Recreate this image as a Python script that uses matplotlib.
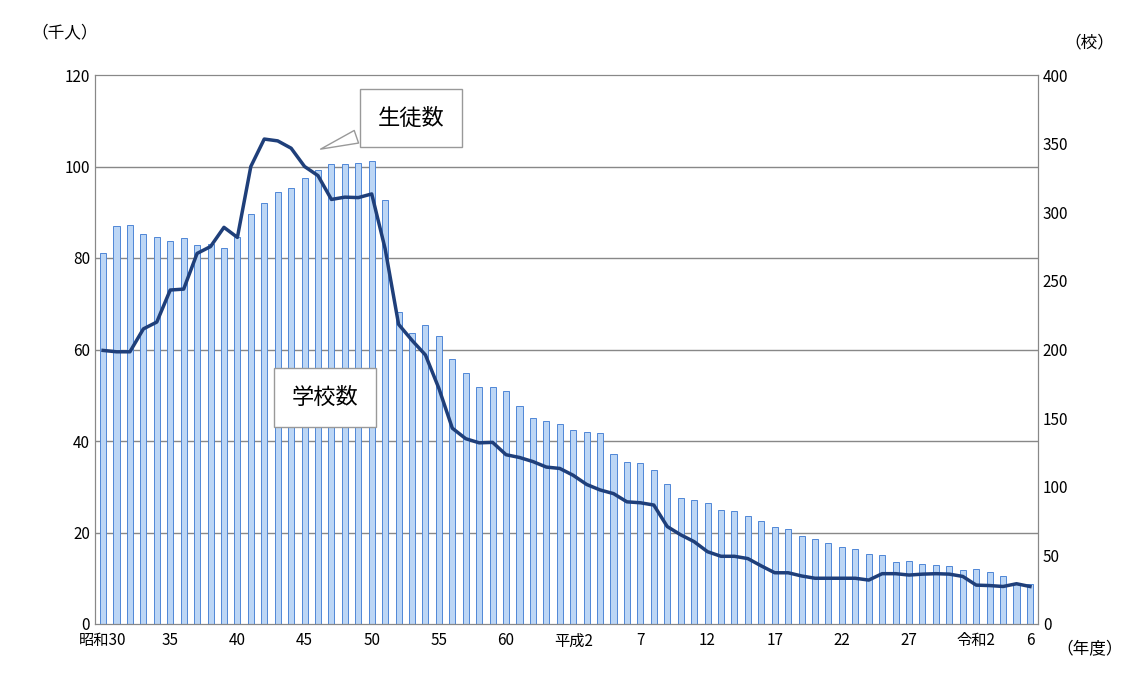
import numpy as np
import matplotlib.pyplot as plt

plt.rcParams['font.family'] = ['Noto Sans CJK JP', 'DejaVu Sans']

# 昭和30(1955)〜令和6(2024)
schools_k = [81, 87, 87.3, 85.3, 84.7, 83.8, 84.3, 82.8, 83.2, 82.3,
             84.5, 89.8, 92.2, 94.6, 95.5, 97.6, 99.3, 100.6, 100.6, 100.9,
             101.2, 92.8, 68, 63.7, 65.5, 63, 58, 55, 52, 51.8,
             51, 47.8, 45, 44.5, 43.8, 42.4, 42, 41.7, 37.2, 35.5,
             35, 33.7, 30.7, 27.5, 27, 26.5, 25, 24.7, 23.8, 22.6,
             21.4, 20.8, 19.2, 18.7, 17.8, 16.9, 16.5, 15.3, 15, 13.6,
             13.8, 13.3, 13, 12.6, 11.8, 12, 11.4, 10.6, 9, 8.8]
schools = [round(v * 10 / 3) for v in schools_k]  # 校
students = [59.8, 59.5, 59.5, 64.5, 66, 73, 73.2, 81, 82.5, 86.7,
            84.5, 100, 106, 105.6, 104, 100, 98, 92.8, 93.3, 93.2,
            94, 82, 65.5, 62, 58.8, 51.5, 42.8, 40.5, 39.6, 39.7,
            37, 36.4, 35.5, 34.3, 34, 32.5, 30.5, 29.3, 28.5, 26.7,
            26.5, 26, 21.3, 19.5, 18, 15.8, 14.8, 14.8, 14.3, 12.7,
            11.2, 11.2, 10.5, 10, 10, 10, 10, 9.6, 11, 11,
            10.7, 10.9, 11, 10.9, 10.4, 8.5, 8.4, 8.2, 8.8, 8.2]  # 千人
tick_pos = [0, 5, 10, 15, 20, 25, 30, 35, 40, 45, 50, 55, 60, 65, 69]
tick_labels = ['昭和30', '35', '40', '45', '50', '55', '60', '平成2',
               '7', '12', '17', '22', '27', '令和2', '6']

x = np.arange(len(schools))
fig = plt.figure(figsize=(11.38, 6.78), dpi=100)
ax = fig.add_axes([95 / 1138, 1 - 624 / 678, 943 / 1138, 549 / 678])
ax2 = ax.twinx()
ax.set_zorder(ax2.get_zorder() + 1)
ax.patch.set_visible(False)

ax.set_ylim(0, 120)
ax.set_yticks(range(0, 121, 20))
ax2.set_ylim(0, 400)
ax2.set_yticks(range(0, 401, 50))

# grid drawn behind the bars (left-axis ticks in right-axis units)
for v in range(20, 120, 20):
    ax2.axhline(v * 10 / 3, color='#888888', lw=1, zorder=1)
ax2.bar(x, schools, width=0.45, color='#bcd6f5', edgecolor='#4f86d6', lw=0.7, zorder=2)
ax.plot(x, students, color='#1f3f7a', lw=2.5, zorder=3)

ax.set_xlim(-0.6, 69.6)
ax.set_xticks(tick_pos)
ax.set_xticklabels(tick_labels)
for a in (ax, ax2):
    a.tick_params(length=0, labelsize=11)
    for s in a.spines.values():
        s.set_color('#888888')
ax.tick_params(axis='x', pad=6)

fig.text(0.028, 0.945, '（千人）', fontsize=12)
fig.text(0.935, 0.93, '（校）', fontsize=12)
fig.text(0.928, 0.035, '（年度）', fontsize=12)

ax.annotate('生徒数', xy=(16.0, 103.6), xytext=(22.9, 110.6),
            fontsize=16, ha='center', va='center',
            bbox=dict(boxstyle='square,pad=0.8', fc='white', ec='#999999'),
            arrowprops=dict(arrowstyle='wedge,tail_width=0.6', fc='white', ec='#999999'))
ax.text(16.5, 49.5, '学校数', fontsize=16, ha='center', va='center',
        bbox=dict(boxstyle='square,pad=0.8', fc='white', ec='#999999'))

fig.savefig('out.png')
